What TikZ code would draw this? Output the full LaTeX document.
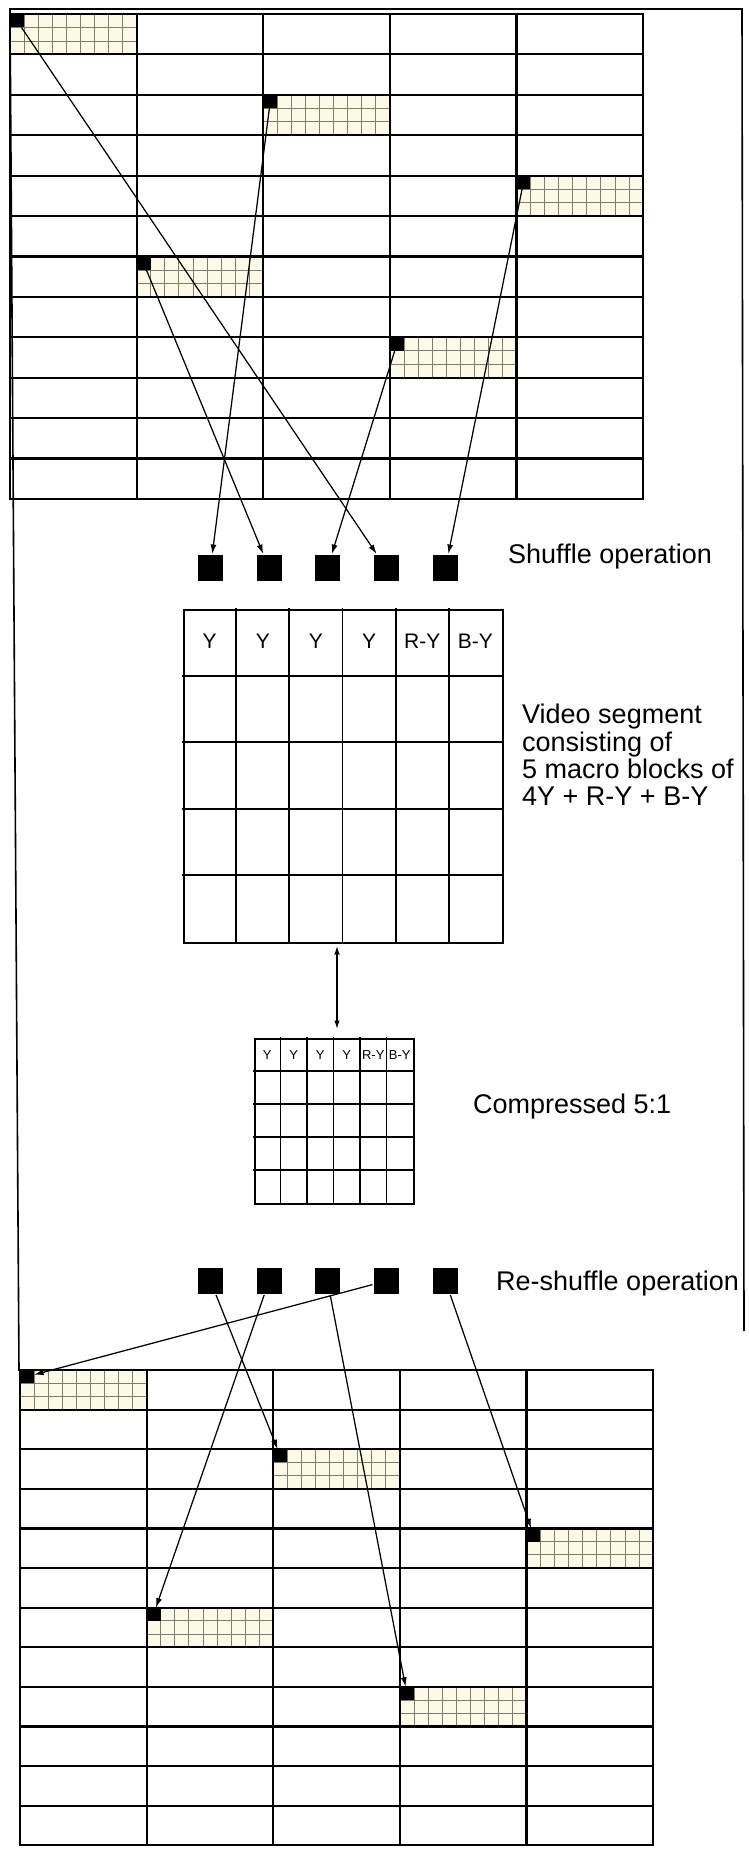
\documentclass[tikz,border=0pt]{standalone}
\usepackage{fontspec}
\setmainfont{Liberation Sans}
\usetikzlibrary{arrows.meta}
\definecolor{cream}{RGB}{250,250,230}
\definecolor{subline}{RGB}{125,125,105}

% name, x, y, w, h  (pixel coordinates, y downward)
\newcommand\hatchcell[5]{%
  \fill[cream] (#2,#3) rectangle ++(#4,#5);
  \foreach \i in {1,...,8} \draw[subgrid] ({#2+\i*#4/9},#3) -- ++(0,#5);
  \foreach \j in {1,2} \draw[subgrid] (#2,{#3+\j*#5/3}) -- ++(#4,0);
  \node[corner, minimum width={#4/9*1pt}, minimum height={#5/3*1pt}] (#1) at ({#2+#4/18},{#3+#5/6}) {};
}

\begin{document}
\begin{tikzpicture}[x=1pt,y=-1pt,
  gline/.style={line width=2.2pt, line cap=rect},
  mline/.style={line width=1.9pt, line cap=rect},
  frameline/.style={line width=1.6pt, line cap=rect},
  subgrid/.style={line width=0.7pt, draw=subline},
  corner/.style={fill=black, inner sep=0pt, outer sep=0pt},
  sq/.style={fill=black, inner sep=0pt, outer sep=1pt, minimum width=25pt, minimum height=26pt},
  arr/.style={line width=1.25pt, -{Latex[length=9.5pt,width=6pt]}},
  dbl/.style={line width=1.25pt, {Latex[length=8.5pt,width=5.5pt]}-{Latex[length=8.5pt,width=5.5pt]}},
  bigtext/.style={font=\fontsize{27}{27.3}\selectfont, inner sep=0pt},
  midlabel/.style={font=\fontsize{21}{24}\selectfont, inner sep=0pt},
  smalllabel/.style={font=\fontsize{13}{15}\selectfont, inner sep=0pt},
  gridbox/.style={draw, line width=1.9pt, inner sep=0pt, anchor=north west}
]
\useasboundingbox (0,0) rectangle (748,1852);
\fill[white] (0,0) rectangle (748,1852);

% ---------- outer frame ----------
\draw[frameline] (19,1370) -- (10,9) -- (742,9) -- (744,1330);

% ---------- top picture grid ----------
\hatchcell{t1}{10}{14}{126.6}{40.4}
\hatchcell{t2}{263.2}{94.8}{126.6}{40.4}
\hatchcell{t3}{516.4}{175.6}{126.6}{40.4}
\hatchcell{t4}{136.6}{256.4}{126.6}{40.4}
\hatchcell{t5}{389.8}{337.2}{126.6}{40.4}
\foreach \k in {0,...,12} \draw[gline] (10,{14+\k*40.4}) -- (643,{14+\k*40.4});
\foreach \k in {0,...,5} \draw[gline] ({10+\k*126.6},14) -- ({10+\k*126.6},498.8);

% ---------- shuffle blocks ----------
\node[sq] (s1) at (210.5,568) {};
\node[sq] (s2) at (269,568) {};
\node[sq] (s3) at (327.5,568) {};
\node[sq] (s4) at (386,568) {};
\node[sq] (s5) at (445.5,568) {};
\node[bigtext, anchor=base west] (shuf) at (508,563) {Shuffle operation};

\draw[arr] (t2) -- (s1);
\draw[arr] (t4) -- (s2);
\draw[arr] (t5) -- (s3);
\draw[arr] (t1) -- (s4);
\draw[arr] (t3) -- (s5);

% ---------- video segment ----------
\node[gridbox, minimum width=319pt, minimum height=333pt] (mid) at (183,609) {};
\foreach \k in {1,...,5} \draw[mline] ({183+\k*53.17},609) -- ({183+\k*53.17},942);
\foreach \k in {1,...,4} \draw[mline] (183,{609+\k*66.6}) -- (502,{609+\k*66.6});
\foreach \t [count=\c from 0] in {Y,Y,Y,Y,R-Y,B-Y}
  \node[midlabel] (ml\c) at ({183+26.6+\c*53.17},641) {\t};
\node[bigtext, anchor=north west, align=left] (vs) at (522,704)
  {Video segment\\consisting of\\5 macro blocks of\\4Y + R-Y + B-Y};

% ---------- compressed ----------
\coordinate (d1) at (337,946);
\coordinate (d2) at (337,1029);
\draw[dbl] (d1) -- (d2);
\node[gridbox, minimum width=159pt, minimum height=165pt] (comp) at (254,1038) {};
\foreach \k in {1,...,5} \draw[mline] ({254+\k*26.5},1038) -- ({254+\k*26.5},1203);
\foreach \k in {1,...,4} \draw[mline] (254,{1038+\k*33}) -- (413,{1038+\k*33});
\foreach \t [count=\c from 0] in {Y,Y,Y,Y,R-Y,B-Y}
  \node[smalllabel] (cl\c) at ({254+13.25+\c*26.5},1055.5) {\t};
\node[bigtext, anchor=base west] (cmp) at (473,1113) {Compressed 5:1};

% ---------- re-shuffle blocks ----------
\node[sq] (r1) at (210.5,1281) {};
\node[sq] (r2) at (269,1281) {};
\node[sq] (r3) at (327.5,1281) {};
\node[sq] (r4) at (386,1281) {};
\node[sq] (r5) at (445.5,1281) {};
\node[bigtext, anchor=base west] (reshuf) at (496,1290) {Re-shuffle operation};

% ---------- bottom picture grid ----------
\hatchcell{b1}{20}{1370}{126.6}{39.6}
\hatchcell{b2}{273.2}{1449.2}{126.6}{39.6}
\hatchcell{b3}{526.4}{1528.4}{126.6}{39.6}
\hatchcell{b4}{146.6}{1607.6}{126.6}{39.6}
\hatchcell{b5}{399.8}{1686.8}{126.6}{39.6}
\foreach \k in {0,...,12} \draw[gline] (20,{1370+\k*39.6}) -- (653,{1370+\k*39.6});
\foreach \k in {0,...,5} \draw[gline] ({20+\k*126.6},1370) -- ({20+\k*126.6},1845.2);

\draw[arr] (r1) -- (b2);
\draw[arr] (r2) -- (b4);
\draw[arr] (r3) -- (b5);
\draw[arr] (r4) -- (b1);
\draw[arr] (r5) -- (b3);
\end{tikzpicture}
\end{document}
